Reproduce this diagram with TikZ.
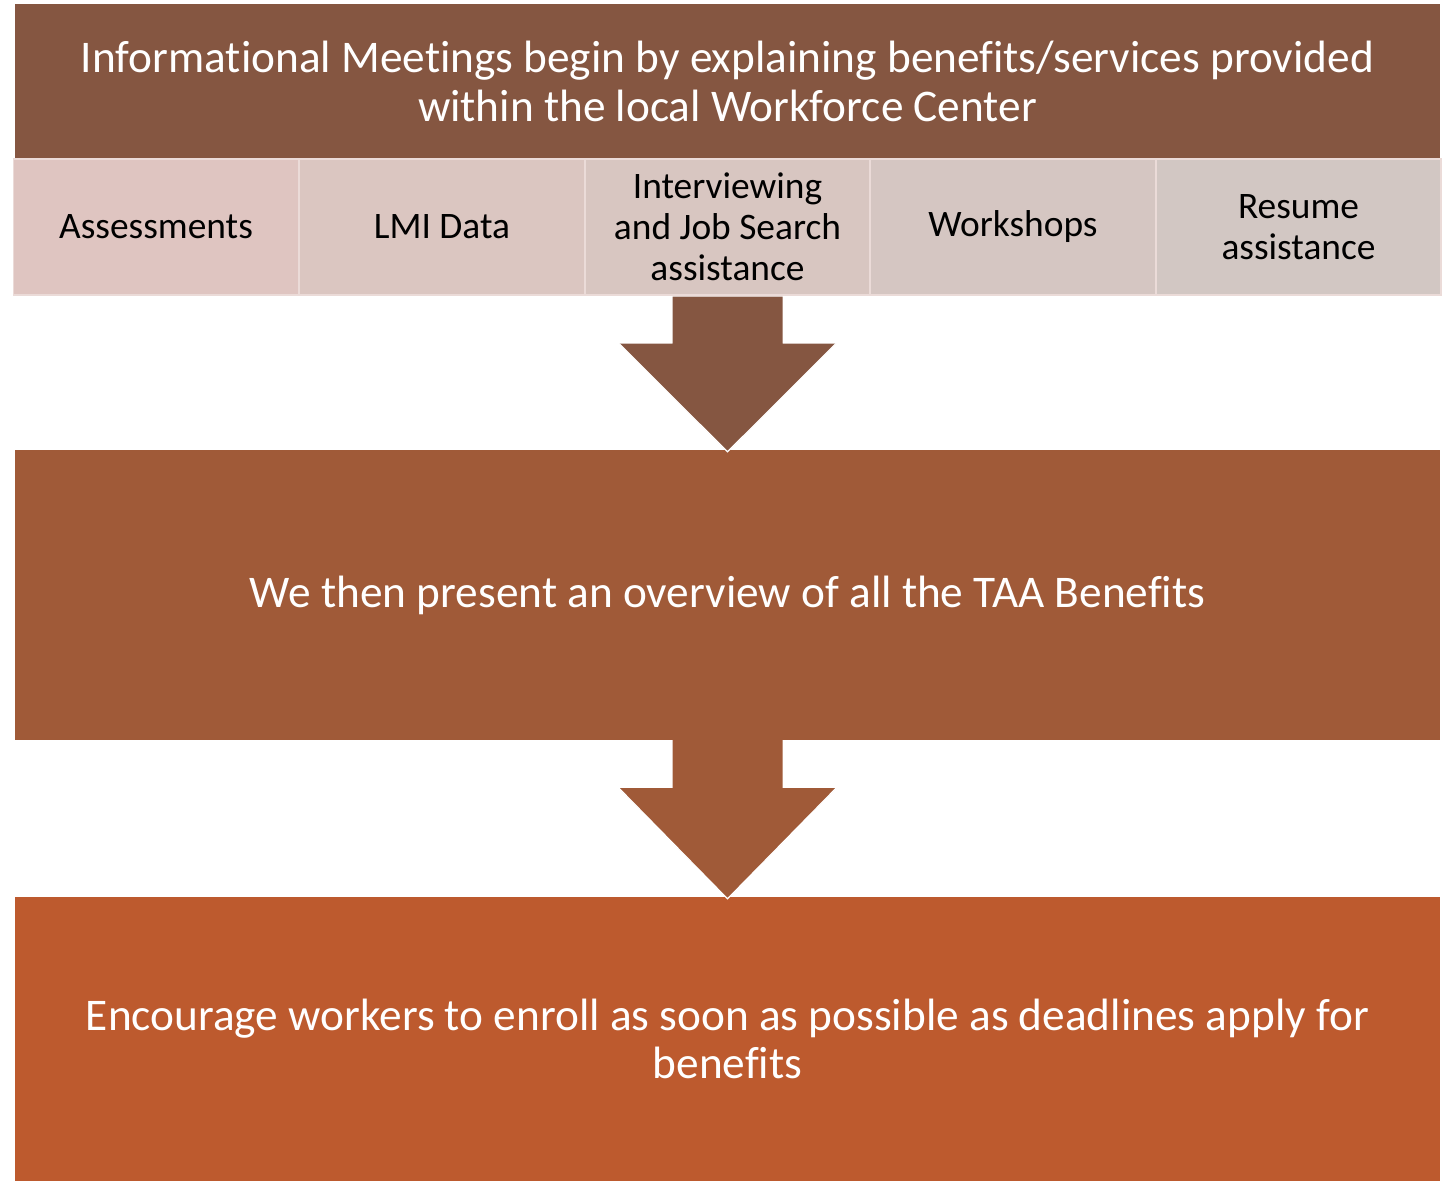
\documentclass[tikz,border=0pt]{standalone}
\usepackage{fontspec}
\setmainfont{Carlito}[Ligatures={NoCommon}]
\usetikzlibrary{calc}
\definecolor{cTop}{HTML}{855641}
\definecolor{cMid}{HTML}{A05A38}
\definecolor{cBot}{HTML}{BD5A2E}
\definecolor{sA}{HTML}{DFC5C1}
\definecolor{sB}{HTML}{DBC6C1}
\definecolor{sC}{HTML}{D8C6C1}
\definecolor{sD}{HTML}{D5C6C2}
\definecolor{sE}{HTML}{D2C7C3}
\definecolor{sEdge}{HTML}{EBDBD8}
\begin{document}
\begin{tikzpicture}[x=1pt,y=-1pt,
  bigbox/.style={rectangle, inner sep=0pt, minimum width=1425pt, text=white, align=center,
    font=\fontsize{45.3}{48.5}\selectfont},
  subbox/.style={rectangle, inner sep=0pt, minimum width=285pt, minimum height=136pt,
    draw=sEdge, line width=1.5pt, text=black, align=center,
    font=\fontsize{37.4}{41}\selectfont},
  tipedge/.style={draw=white, line width=1.2pt}]
\useasboundingbox (0,0) rectangle (1450,1181);

\node[bigbox, fill=cTop, minimum height=155pt] (top) at (727.5,81.5)
  {Informational Meetings begin by explaining benefits/services provided\\within the local Workforce Center};

\node[subbox, fill=sA] (s1) at (156,227) {Assessments};
\node[subbox, fill=sB] (s2) at (442,227) {LMI Data};
\node[subbox, fill=sC] (s3) at (727.5,227) {Interviewing\\and Job Search\\assistance};
\node[subbox, fill=sD] (s4) at (1013,227) {Workshops};
\node[subbox, fill=sE] (s5) at (1298.5,227) {Resume\\assistance};

\node[bigbox, fill=cMid, minimum height=290pt] (mid) at (727.5,595)
  {We then present an overview of all the TAA Benefits};

\node[bigbox, fill=cBot, minimum height=284pt] (bot) at (727.5,1039)
  {Encourage workers to enroll as soon as possible as deadlines apply for\\benefits};

% arrow 1
\coordinate (a1) at ($(s3.south)+(0,0.75)$);
\coordinate (t1) at ($(mid.north)+(0,2)$);
\fill[cTop] ($(a1)+(-55,0)$) -- ($(a1)+(-55,47)$) -- ($(a1)+(-108.5,47)$) -- (t1)
  -- ($(a1)+(108.5,47)$) -- ($(a1)+(55,47)$) -- ($(a1)+(55,0)$) -- cycle;
\draw[tipedge] ($(a1)+(-108.5,47)$) -- (t1) -- ($(a1)+(108.5,47)$);

% arrow 2
\coordinate (a2) at (mid.south);
\coordinate (t2) at ($(bot.north)+(0,2)$);
\fill[cMid] ($(a2)+(-55,0)$) -- ($(a2)+(-55,48)$) -- ($(a2)+(-108.5,48)$) -- (t2)
  -- ($(a2)+(108.5,48)$) -- ($(a2)+(55,48)$) -- ($(a2)+(55,0)$) -- cycle;
\draw[tipedge] ($(a2)+(-108.5,48)$) -- (t2) -- ($(a2)+(108.5,48)$);
\end{tikzpicture}
\end{document}
